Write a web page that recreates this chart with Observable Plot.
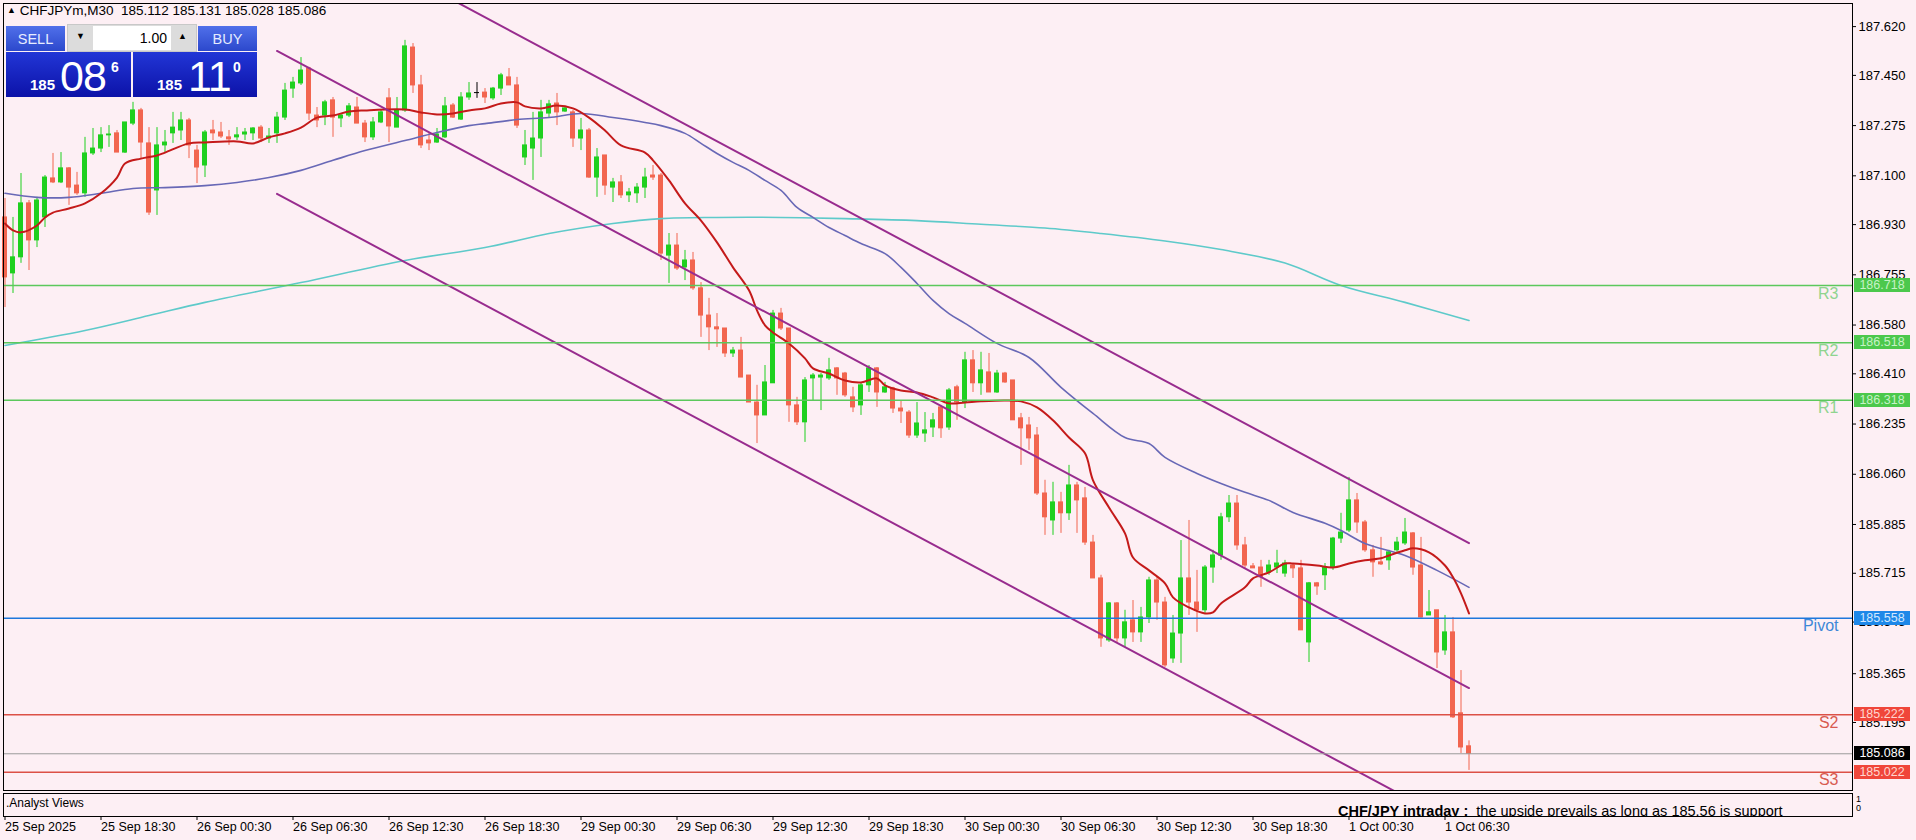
<!DOCTYPE html>
<html>
<head>
<meta charset="utf-8">
<script src="https://cdn.jsdelivr.net/npm/d3@7"></script>
<script src="https://cdn.jsdelivr.net/npm/@observablehq/plot@0.6"></script>
<style>
  html, body { margin: 0; padding: 0; background: #fdeff4; overflow: hidden; }
  body { font-family: "Liberation Sans", Arial, sans-serif; }
  #wrap { position: relative; width: 1916px; height: 840px; background: #fdeff4; }
  #wrap svg { position: absolute; left: 0; }
  .hdr { position: absolute; left: 7px; top: 3px; font-size: 13.5px; color: #000; white-space: pre; }
  .btn { position: absolute; top: 26px; height: 25px; width: 59px; background: linear-gradient(#5070ea, #2c48cc);
         color: #e6ecff; font-size: 14.5px; display: flex; align-items: center; justify-content: center; }
  .spin { position: absolute; left: 67px; top: 24px; width: 130px; height: 28px; background: #dcdcdc; border: 1px solid #c8c8c8; box-sizing: border-box; }
  .spin .inp { position: absolute; left: 25px; top: 1px; width: 78px; height: 24px; background: #fff; font-size: 14px; text-align: right; line-height: 24px; padding-right: 4px; box-sizing: border-box; color: #000; }
  .spin .arr { position: absolute; top: 6px; font-size: 9px; color: #000; }
  .pbox { position: absolute; top: 52px; height: 45px; background: linear-gradient(#2236d6, #0c12a8); color: #fff; }
  .pbox .s { position: absolute; font-size: 15px; font-weight: bold; top: 24px; }
  .pbox .b { position: absolute; font-size: 43px; top: 0px; letter-spacing: -1px; }
  .pbox .p { position: absolute; font-size: 14px; font-weight: bold; top: 7px; }
  .abox { position: absolute; left: 1854px; width: 56px; height: 14px; line-height: 14px; font-size: 12.5px; text-align: center; }
  .sub-txt { position: absolute; font-size: 12px; color: #000; }
  .clip { position: absolute; left: 1300px; top: 794px; width: 551px; height: 22px; overflow: hidden; }
  .clip div { position: absolute; left: 38px; top: 9px; font-size: 14.5px; white-space: pre; color: #000; }
</style>
</head>
<body>
<div id="wrap"></div>
<script>
// ---------------- data ----------------
const symbol = "CHFJPYm,M30";
const tickBars = [0, 12, 24, 36, 48, 60, 72, 84, 96, 108, 120, 132, 144, 156, 168, 180];
const tickLabels = ["25 Sep 2025", "25 Sep 18:30", "26 Sep 00:30", "26 Sep 06:30", "26 Sep 12:30", "26 Sep 18:30",
  "29 Sep 00:30", "29 Sep 06:30", "29 Sep 12:30", "29 Sep 18:30", "30 Sep 00:30", "30 Sep 06:30",
  "30 Sep 12:30", "30 Sep 18:30", "1 Oct 00:30", "1 Oct 06:30"];
const yTicks = [187.620, 187.450, 187.275, 187.100, 186.930, 186.755, 186.580, 186.410, 186.235,
  186.060, 185.885, 185.715, 185.545, 185.365, 185.195];

const open = [
186.955,186.760,186.816,187.004,186.875,186.955,187.091,187.077,187.126,187.066,
187.039,187.178,187.195,187.241,187.248,187.181,187.282,187.328,187.213,187.049,
187.206,187.248,187.258,187.293,187.188,187.136,187.258,187.251,187.234,187.234,
187.244,187.248,187.268,187.230,187.248,187.303,187.404,187.422,187.474,187.310,
187.310,187.363,187.300,187.310,187.338,187.282,187.234,187.286,187.370,187.268,
187.328,187.547,187.415,187.223,187.216,187.234,187.345,187.296,187.373,187.390,
187.390,187.370,187.404,187.443,187.415,187.164,187.195,187.230,187.317,187.352,
187.324,187.321,187.230,187.258,187.094,187.171,187.059,187.077,187.032,187.039,
187.059,187.101,187.101,186.822,186.857,186.781,186.805,186.708,186.613,186.572,
186.568,186.481,186.491,186.404,186.310,186.265,186.377,186.620,186.568,186.300,
186.241,186.394,186.397,186.394,186.429,186.411,186.328,186.300,186.370,186.429,
186.345,186.359,186.289,186.275,186.195,186.202,186.223,186.293,186.223,186.363,
186.310,186.457,186.377,186.415,186.345,186.411,186.387,186.255,186.230,186.195,
185.993,185.899,185.962,185.924,186.021,185.976,185.822,185.697,185.481,185.610,
185.488,185.551,185.509,185.561,185.690,185.613,185.418,185.505,185.697,185.613,
185.586,185.735,185.777,185.910,185.958,185.812,185.739,185.735,185.718,185.735,
185.714,185.742,185.732,185.474,185.680,185.708,185.735,185.836,185.864,185.969,
185.892,185.795,185.753,185.760,185.795,185.819,185.854,185.742,185.568,185.586,
185.446,185.509,185.227,185.112];
const high = [
187.021,186.955,187.108,187.014,187.025,187.101,187.178,187.181,187.129,187.112,
187.234,187.265,187.268,187.275,187.258,187.286,187.356,187.335,187.268,187.268,
187.258,187.321,187.321,187.300,187.206,187.258,187.293,187.286,187.258,187.268,
187.265,187.268,187.275,187.265,187.321,187.422,187.443,187.512,187.478,187.338,
187.363,187.373,187.317,187.352,187.373,187.293,187.303,187.328,187.404,187.373,
187.572,187.561,187.450,187.248,187.265,187.373,187.352,187.390,187.425,187.425,
187.404,187.408,187.457,187.474,187.443,187.258,187.321,187.363,187.363,187.387,
187.342,187.328,187.300,187.265,187.195,187.171,187.091,187.101,187.056,187.073,
187.126,187.136,187.108,186.899,186.899,186.840,186.833,186.728,186.673,186.620,
186.568,186.502,186.537,186.404,186.370,186.439,186.631,186.638,186.568,186.328,
186.397,186.411,186.411,186.464,186.432,186.415,186.363,186.377,186.439,186.432,
186.380,186.363,186.317,186.282,186.310,186.275,186.272,186.300,186.359,186.370,
186.485,186.491,186.485,186.481,186.422,186.415,186.387,186.272,186.258,186.223,
186.039,186.032,185.997,186.091,186.032,186.014,185.847,185.708,185.613,185.613,
185.586,185.620,185.596,185.701,185.701,185.631,185.568,185.829,185.899,185.725,
185.742,185.795,185.924,185.986,185.986,185.840,185.749,185.760,185.760,185.795,
185.760,185.749,185.760,185.683,185.683,185.749,185.840,185.924,186.049,185.993,
185.899,185.812,185.840,185.795,185.840,185.906,185.857,185.840,185.655,185.586,
185.568,185.561,185.376,185.131];
const low = [
186.641,186.690,186.795,186.770,186.850,186.920,187.073,187.073,186.997,187.032,
187.025,187.171,187.181,187.199,187.181,187.178,187.275,187.160,186.962,186.962,
187.178,187.213,187.223,187.160,187.073,187.094,187.223,187.230,187.206,187.223,
187.223,187.223,187.216,187.213,187.213,187.293,187.370,187.415,187.293,187.268,
187.275,187.234,187.268,187.303,187.282,187.216,187.223,187.282,187.216,187.268,
187.321,187.387,187.195,187.188,187.213,187.230,187.300,187.293,187.363,187.370,
187.352,187.363,187.380,187.415,187.265,187.136,187.084,187.164,187.300,187.275,
187.321,187.199,187.188,187.091,187.025,187.032,187.007,187.021,187.007,187.004,
187.021,187.084,186.805,186.725,186.770,186.735,186.701,186.537,186.491,186.502,
186.467,186.467,186.397,186.310,186.167,186.265,186.377,186.561,186.241,186.230,
186.171,186.317,186.282,186.387,186.335,186.328,186.275,186.265,186.345,186.293,
186.342,186.272,186.237,186.185,186.185,186.171,186.188,186.185,186.213,186.248,
186.289,186.345,186.335,186.345,186.342,186.377,186.248,186.091,186.143,185.986,
185.847,185.847,185.854,185.899,185.854,185.812,185.697,185.457,185.474,185.474,
185.457,185.474,185.474,185.540,185.551,185.387,185.401,185.401,185.568,185.509,
185.575,185.680,185.760,185.892,185.795,185.732,185.732,185.666,185.708,185.714,
185.701,185.697,185.516,185.404,185.638,185.655,185.725,185.819,185.857,185.854,
185.788,185.701,185.742,185.725,185.788,185.812,185.708,185.558,185.568,185.383,
185.429,185.209,185.087,185.028];
const close = [
186.746,186.816,187.004,186.875,187.014,187.094,187.077,187.126,187.059,187.039,
187.178,187.195,187.241,187.244,187.181,187.286,187.328,187.216,186.972,187.206,
187.216,187.268,187.293,187.206,187.129,187.251,187.248,187.237,187.227,187.241,
187.251,187.265,187.230,187.237,187.303,187.397,187.425,187.467,187.317,187.293,
187.356,187.303,187.310,187.342,187.282,187.234,187.286,187.321,187.272,187.328,
187.551,187.415,187.206,187.213,187.244,187.342,187.303,187.373,187.387,187.390,
187.373,187.404,187.450,187.415,187.275,187.206,187.230,187.321,187.349,187.321,
187.335,187.230,187.258,187.094,187.164,187.066,187.077,187.032,187.042,187.059,
187.094,187.094,186.829,186.857,186.777,186.805,186.708,186.613,186.572,186.565,
186.481,186.491,186.397,186.310,186.265,186.380,186.620,186.568,186.300,186.241,
186.387,186.404,186.404,186.422,186.394,186.335,186.293,186.370,186.429,186.345,
186.363,186.289,186.279,186.195,186.237,186.213,186.248,186.220,186.352,186.310,
186.457,186.377,186.422,186.345,186.411,186.380,186.248,186.220,186.185,185.993,
185.910,185.962,185.924,186.021,185.969,185.822,185.697,185.488,185.610,185.488,
185.544,185.509,185.561,185.690,185.613,185.394,185.505,185.697,185.613,185.586,
185.735,185.777,185.910,185.958,185.812,185.742,185.732,185.701,185.742,185.749,
185.749,185.732,185.516,185.680,185.669,185.735,185.836,185.857,185.969,185.892,
185.795,185.753,185.746,185.788,185.822,185.857,185.735,185.561,185.579,185.439,
185.509,185.213,185.108,185.086];

// moving averages: [bar index, price]
const maFast = [[0,186.934],[1,186.910],[2,186.903],[4,186.927],[5,186.955],[6,186.972],[8,186.986],[10,187.004],
[12,187.039],[14,187.094],[15,187.143],[17,187.160],[19,187.171],[20,187.181],[23,187.213],[25,187.216],[29,187.220],
[31,187.213],[33,187.234],[35,187.248],[37,187.268],[39,187.303],[41,187.310],[43,187.324],[45,187.328],[50,187.331],
[52,187.321],[54,187.314],[56,187.317],[58,187.328],[60,187.335],[62,187.352],[64,187.356],[65,187.342],[67,187.335],
[69,187.345],[71,187.335],[73,187.303],[75,187.258],[77,187.206],[80,187.181],[81,187.154],[83,187.084],[85,187.004],
[87,186.944],[89,186.868],[91,186.781],[93,186.701],[94,186.631],[95,186.579],[96,186.554],[98,186.516],[100,186.464],
[101,186.429],[103,186.411],[105,186.387],[107,186.380],[109,186.394],[110,186.370],[112,186.352],[114,186.345],
[116,186.328],[118,186.307],[120,186.310],[122,186.314],[125,186.317],[127,186.314],[129,186.293],[131,186.248],
[133,186.188],[135,186.133],[136,186.039],[138,185.944],[140,185.854],[141,185.770],[143,185.725],[145,185.680],
[146,185.631],[148,185.596],[150,185.575],[151,185.579],[152,185.610],[155,185.666],[156,185.697],[158,185.718],
[160,185.749],[161,185.749],[164,185.742],[166,185.735],[168,185.749],[170,185.760],[172,185.767],[173,185.777],
[175,185.795],[176,185.802],[178,185.788],[180,185.742],[181,185.701],[182,185.645],[183,185.575]];
const maMid = [[0,187.039],[4,187.025],[8,187.025],[12,187.039],[16,187.056],[20,187.059],[25,187.066],[29,187.077],
[33,187.094],[37,187.119],[41,187.154],[45,187.188],[50,187.223],[54,187.251],[58,187.275],[60,187.282],[64,187.296],
[68,187.303],[72,187.317],[76,187.303],[80,187.286],[82,187.275],[85,187.248],[87,187.213],[89,187.178],[91,187.147],
[93,187.119],[95,187.084],[97,187.049],[99,186.990],[101,186.955],[103,186.920],[105,186.892],[107,186.864],
[110,186.829],[112,186.781],[114,186.725],[116,186.666],[118,186.620],[120,186.586],[124,186.516],[128,186.467],
[132,186.363],[136,186.272],[140,186.188],[143,186.167],[145,186.119],[149,186.063],[152,186.028],[155,185.997],
[158,185.969],[161,185.927],[165,185.889],[167,185.864],[170,185.819],[175,185.777],[179,185.725],[183,185.666]];
const maSlow = [[0,186.509],[10,186.561],[18,186.613],[25,186.659],[37,186.728],[50,186.805],[60,186.850],[68,186.899],
[76,186.934],[82,186.951],[89,186.955],[97,186.955],[105,186.951],[114,186.944],[122,186.931],[130,186.918],
[137,186.899],[145,186.873],[152,186.843],[160,186.796],[167,186.718],[175,186.659],[183,186.596]];

// regression channel (start bar, end bar, prices at start/end)
const channelBars = [34, 183];
const channelUpper = [188.040, 185.820];
const channelMiddle = [187.535, 185.315];
const channelLower = [187.037, 184.817];

// pivot levels
const levelNames = ["R3", "R2", "R1", "Pivot", "S2", "S3"];
const levelValues = [186.718, 186.518, 186.318, 185.558, 185.222, 185.022];
const lastPrice = 185.086;
const askPrice = 185.110;
const lotSize = "1.00";
const panelLabel = ".Analyst Views";
const analystNote = ["CHF/JPY intraday :", "  the upside prevails as long as 185.56 is support"];

// ---------------- styles ----------------
const BULL = "#1fd01f", BEAR = "#f2654f", DOJI = "#000000";
const levelStyle = {
  R3: {line: "#5cc85c", label: "#8fd48f", bg: "#4cc84c", fg: "#c6f2c6"},
  R2: {line: "#5cc85c", label: "#8fd48f", bg: "#4cc84c", fg: "#c6f2c6"},
  R1: {line: "#5cc85c", label: "#8fd48f", bg: "#4cc84c", fg: "#c6f2c6"},
  Pivot: {line: "#1e78dc", label: "#3d88d8", bg: "#1e88e8", fg: "#d2e8ff"},
  S2: {line: "#dc5046", label: "#d85a50", bg: "#f0463a", fg: "#ffd6d0"},
  S3: {line: "#dc5046", label: "#d85a50", bg: "#f0463a", fg: "#ffd6d0"}
};
const FONT = "'Liberation Sans', Arial, sans-serif";
const xDomain = [-0.1875, 230.9375];

// ---------------- build ----------------
const wrap = document.getElementById("wrap");
const candles = open.map((o, i) => ({i, o, h: high[i], l: low[i], c: close[i]}));
const up = candles.filter(d => d.c > d.o);
const dn = candles.filter(d => d.c < d.o);
const flat = candles.filter(d => d.c === d.o);
const pts = arr => arr.map(([i, v]) => ({i, v}));
const levels = levelNames.map((name, k) => ({name, v: levelValues[k]}));
const chan = [["u", channelUpper], ["m", channelMiddle], ["l", channelLower]]
  .flatMap(([k, [a, b]]) => [{k, i: channelBars[0], v: a}, {k, i: channelBars[1], v: b}]);

function candleMarks(data, color) {
  return [
    Plot.ruleX(data, {x: "i", y1: "l", y2: "h", stroke: color, strokeWidth: 1}),
    Plot.rect(data, {x1: d => d.i - 0.3125, x2: d => d.i + 0.3125,
      y1: d => Math.min(d.o, d.c), y2: d => Math.max(d.o, d.c), fill: color, insetTop: -0.5, insetBottom: -0.5})
  ];
}

const main = Plot.plot({
  width: 1916, height: 792,
  marginLeft: 3, marginRight: 64, marginTop: 3, marginBottom: 2,
  style: {background: "transparent", fontFamily: FONT, fontSize: "13px", color: "#000"},
  x: {domain: xDomain, axis: null},
  y: {domain: [184.958, 187.7005], axis: null},
  color: {type: "identity"},
  marks: [
    ...candleMarks(up, BULL),
    ...candleMarks(dn, BEAR),
    Plot.ruleX(flat, {x: "i", y1: "l", y2: "h", stroke: DOJI}),
    Plot.ruleY(flat, {y: "c", x1: d => d.i - 0.3125, x2: d => d.i + 0.3125, stroke: DOJI}),
    Plot.line(pts(maSlow), {x: "i", y: "v", stroke: "#5ecaca", strokeWidth: 1.6, curve: "catmull-rom"}),
    Plot.line(pts(maMid), {x: "i", y: "v", stroke: "#6868b6", strokeWidth: 1.6, curve: "catmull-rom"}),
    Plot.line(pts(maFast), {x: "i", y: "v", stroke: "#c41a1a", strokeWidth: 2, curve: "catmull-rom"}),
    Plot.line(chan, {x: "i", y: "v", z: "k", stroke: "#982c8e", strokeWidth: 2, clip: true}),
    Plot.ruleY(levels, {y: "v", stroke: d => levelStyle[d.name].line, strokeWidth: 1.5}),
    Plot.ruleY([lastPrice], {stroke: "#9a9a9a", strokeWidth: 1}),
    Plot.text(levels, {y: "v", text: "name", frameAnchor: "right", textAnchor: "end", dx: -14, dy: 8,
      fill: d => levelStyle[d.name].label, fontSize: 16}),
    Plot.axisY(yTicks, {anchor: "right", tickSize: 3, tickPadding: 3, tickFormat: d => d.toFixed(3), fontSize: 13}),
    Plot.frame({stroke: "#000", strokeWidth: 1})
  ]
});
main.style.top = "0px";
wrap.appendChild(main);

const sub = Plot.plot({
  width: 1916, height: 48,
  marginLeft: 3, marginRight: 64, marginTop: 1, marginBottom: 24,
  style: {background: "transparent", fontFamily: FONT, fontSize: "12.5px", color: "#000"},
  x: {domain: xDomain, axis: null},
  y: {domain: [0, 1], axis: null},
  marks: [
    Plot.frame({stroke: "#000", strokeWidth: 1}),
    Plot.axisX(tickBars, {anchor: "bottom", tickSize: 4, tickPadding: 2, textAnchor: "start",
      tickFormat: d => tickLabels[tickBars.indexOf(d)], fontSize: 12.5})
  ]
});
sub.style.top = "792px";
wrap.appendChild(sub);

// right-axis price boxes positioned with the plot's y scale
const yS = main.scale("y");
levels.concat([{name: "last", v: lastPrice}]).forEach(d => {
  const el = document.createElement("div");
  el.className = "abox";
  const st = d.name === "last" ? {bg: "#000", fg: "#fff"} : levelStyle[d.name];
  el.style.background = st.bg;
  el.style.color = st.fg;
  el.style.top = (yS.apply(d.v) - 7) + "px";
  el.textContent = d.v.toFixed(3);
  wrap.appendChild(el);
});

// header line
const last = open.length - 1;
const hdr = document.createElement("div");
hdr.className = "hdr";
hdr.innerHTML = `<span style="font-size:9px;position:relative;top:-2px">&#9650;</span> ${symbol}  ${open[last].toFixed(3)} ${high[last].toFixed(3)} ${low[last].toFixed(3)} ${close[last].toFixed(3)}`;
wrap.appendChild(hdr);

// one-click trading panel
function split(p) {
  const s = p.toFixed(3);
  return [s.slice(0, 3), s.slice(4, 6), s.slice(6)];
}
const [bA, bB, bC] = split(lastPrice);
const [aA, aB, aC] = split(askPrice);
const panel = document.createElement("div");
panel.innerHTML = `
  <div class="btn" style="left:6px">SELL</div>
  <div class="btn" style="left:198px">BUY</div>
  <div class="spin"><span class="arr" style="left:8px">&#9660;</span><div class="inp">${lotSize}</div><span class="arr" style="left:110px">&#9650;</span></div>
  <div class="pbox" style="left:6px;width:125px"><span class="s" style="left:24px">${bA}</span><span class="b" style="left:54px">${bB}</span><span class="p" style="left:105px">${bC}</span></div>
  <div class="pbox" style="left:133px;width:124px"><span class="s" style="left:24px">${aA}</span><span class="b" style="left:55px">${aB}</span><span class="p" style="left:100px">${aC}</span></div>`;
wrap.appendChild(panel);

// sub-window texts
const t1 = document.createElement("div");
t1.className = "sub-txt"; t1.style.left = "6px"; t1.style.top = "796px";
t1.textContent = panelLabel;
wrap.appendChild(t1);
["1", "0"].forEach((s, k) => {
  const el = document.createElement("div");
  el.className = "sub-txt"; el.style.fontSize = "9px";
  el.style.left = "1856px"; el.style.top = (794 + k * 9) + "px";
  el.textContent = s;
  wrap.appendChild(el);
});
const clip = document.createElement("div");
clip.className = "clip";
clip.innerHTML = `<div><b>${analystNote[0]}</b>${analystNote[1]}</div>`;
wrap.appendChild(clip);
</script>
</body>
</html>
